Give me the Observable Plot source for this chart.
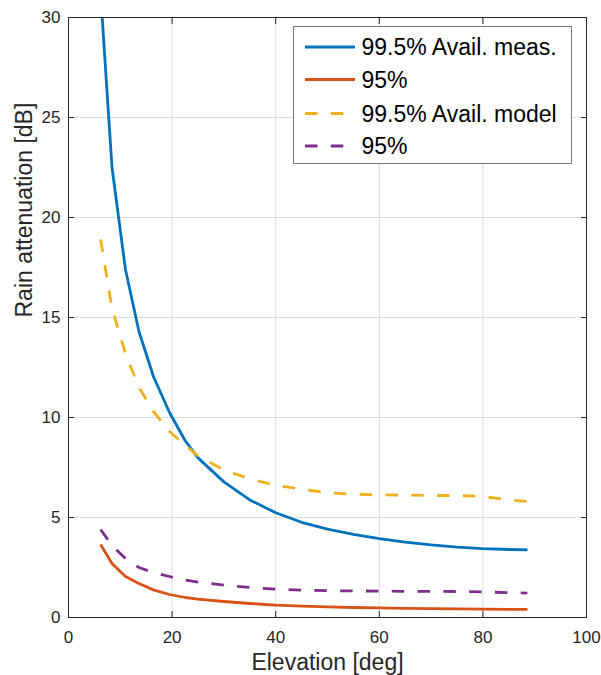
<!DOCTYPE html>
<html><head><meta charset="utf-8">
<script src="https://cdn.jsdelivr.net/npm/d3@7"></script>
<script src="https://cdn.jsdelivr.net/npm/@observablehq/plot@0.6"></script>
<style>
body{margin:0;background:#fff;}
#chart{width:601px;height:675px;}
</style>
</head><body>
<div id="chart"></div>
<script>
// Data
const elevation = [6.2, 8.4, 11, 13.6, 16.4, 19.5, 22.5, 25, 30, 35, 40, 45, 50, 55, 60, 65, 70, 75, 80, 85, 88.6];
const meas995  = [31.2, 22.5, 17.4, 14.3, 12.05, 10.25, 8.85, 7.98, 6.78, 5.88, 5.24, 4.76, 4.42, 4.16, 3.94, 3.77, 3.63, 3.52, 3.44, 3.4, 3.38];
const meas95   = [3.65, 2.7, 2.05, 1.7, 1.38, 1.15, 1.0, 0.92, 0.8, 0.7, 0.62, 0.57, 0.53, 0.5, 0.48, 0.46, 0.44, 0.43, 0.42, 0.41, 0.41];
const model995 = [18.9, 15.45, 13.2, 11.5, 10.3, 9.3, 8.62, 8.08, 7.38, 6.93, 6.6, 6.42, 6.24, 6.16, 6.13, 6.12, 6.1, 6.1, 6.05, 5.88, 5.8];
const model95  = [4.4, 3.6, 2.95, 2.5, 2.25, 2.05, 1.87, 1.77, 1.62, 1.5, 1.42, 1.37, 1.34, 1.33, 1.32, 1.31, 1.31, 1.3, 1.28, 1.24, 1.22];

const seriesNames = ["99.5% Avail. meas.", "95%", "99.5% Avail. model", "95%"];
const seriesColors = ["#0072BD", "#D95319", "#EDB120", "#7E2F8E"];
const seriesDashed = [false, false, true, true];
const seriesValues = [meas995, meas95, model995, model95];

const xTicks = [0, 20, 40, 60, 80, 100];
const yTicks = [0, 5, 10, 15, 20, 25, 30];
const xLabel = "Elevation [deg]";
const yLabel = "Rain attenuation [dB]";

const FONT = "'Liberation Sans', Arial, Helvetica, sans-serif";
const INK = "#262626";
const DASH = "12.5,13.3";
const LW = 2.8;

const lineMarks = seriesValues.map((vals, s) =>
  Plot.line(elevation, {
    x: d => d,
    y: (d, i) => vals[i],
    stroke: seriesColors[s],
    strokeWidth: LW,
    strokeDasharray: seriesDashed[s] ? DASH : null,
    strokeLinecap: "butt",
    strokeLinejoin: "round",
    clip: true
  })
);

const chart = Plot.plot({
  width: 601,
  height: 675,
  marginLeft: 68,
  marginRight: 15,
  marginTop: 17,
  marginBottom: 58,
  style: {fontFamily: FONT, fontSize: "17px", color: INK, background: "#fff", overflow: "visible"},
  x: {domain: [0, 100]},
  y: {domain: [0, 30]},
  marks: [
    Plot.gridX({ticks: xTicks, stroke: "#dcdcdc", strokeOpacity: 1, strokeWidth: 1}),
    Plot.gridY({ticks: yTicks, stroke: "#dcdcdc", strokeOpacity: 1, strokeWidth: 1}),
    ...lineMarks,
    Plot.frame({stroke: INK, strokeWidth: 1}),
    Plot.axisX({ticks: xTicks, anchor: "bottom", tickSize: -6, tickPadding: 19, label: null, stroke: INK, fill: INK, fontSize: 17}),
    Plot.axisX({ticks: xTicks, anchor: "top", tickSize: -6, tickFormat: () => "", label: null, stroke: INK}),
    Plot.axisY({ticks: yTicks, anchor: "left", tickSize: -6, tickPadding: 14, label: null, stroke: INK, fill: INK, fontSize: 17}),
    Plot.axisY({ticks: yTicks, anchor: "right", tickSize: -6, tickFormat: () => "", label: null, stroke: INK}),
    Plot.text([xLabel], {frameAnchor: "bottom", text: d => d, dy: 36, lineAnchor: "top", fontSize: 23, fill: INK}),
    Plot.text([yLabel], {frameAnchor: "left", text: d => d, dx: -44, rotate: -90, lineAnchor: "middle", fontSize: 23, fill: INK})
  ]
});

document.getElementById("chart").appendChild(chart);

// Legend inside the axes (upper right), MATLAB style
const svg = d3.select(chart);
const lg = svg.append("g").attr("transform", "translate(293.5,26.5)");
lg.append("rect").attr("width", 278).attr("height", 137)
  .attr("fill", "#fff").attr("stroke", "#7a7a7a").attr("stroke-width", 1);
const rowY = [20.5, 53, 87, 119.5];
seriesNames.forEach((name, i) => {
  lg.append("line")
    .attr("x1", 11.5).attr("x2", 61.5).attr("y1", rowY[i]).attr("y2", rowY[i])
    .attr("stroke", seriesColors[i]).attr("stroke-width", LW)
    .attr("stroke-dasharray", seriesDashed[i] ? DASH : null);
  lg.append("text")
    .attr("x", 68).attr("y", rowY[i]).attr("dy", "0.36em")
    .attr("text-anchor", "start")
    .attr("font-family", FONT).attr("font-size", 23).attr("fill", "#000")
    .text(name);
});
</script>
</body></html>
